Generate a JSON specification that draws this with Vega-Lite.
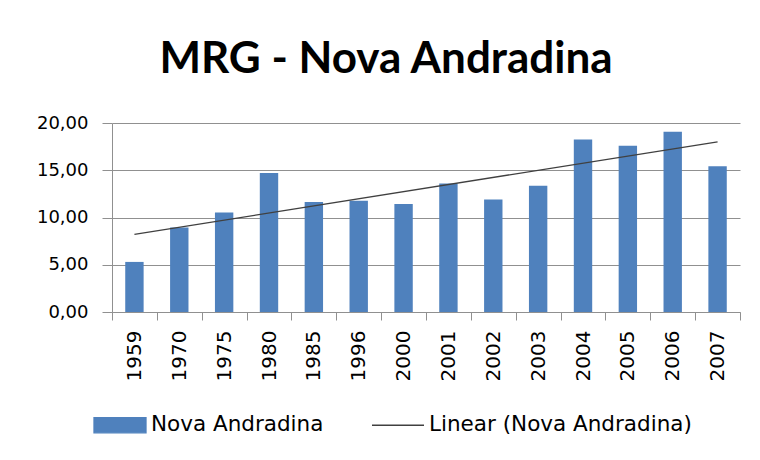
{
  "$schema": "https://vega.github.io/schema/vega-lite/v6.json",
  "autosize": "none",
  "width": 628,
  "height": 189,
  "padding": {"left": 112, "top": 123, "right": 20, "bottom": 148},
  "background": "white",
  "title": {
    "text": "MRG - Nova Andradina",
    "font": "Lato",
    "fontSize": 44,
    "fontWeight": "bold",
    "color": "#000000",
    "anchor": "middle",
    "dx": -40,
    "offset": 32
  },
  "datasets": {
    "bars": [
      {"idx": 1, "year": "1959", "value": 5.3},
      {"idx": 2, "year": "1970", "value": 8.94},
      {"idx": 3, "year": "1975", "value": 10.53},
      {"idx": 4, "year": "1980", "value": 14.72},
      {"idx": 5, "year": "1985", "value": 11.65},
      {"idx": 6, "year": "1996", "value": 11.76},
      {"idx": 7, "year": "2000", "value": 11.44},
      {"idx": 8, "year": "2001", "value": 13.6},
      {"idx": 9, "year": "2002", "value": 11.9},
      {"idx": 10, "year": "2003", "value": 13.35},
      {"idx": 11, "year": "2004", "value": 18.26},
      {"idx": 12, "year": "2005", "value": 17.6},
      {"idx": 13, "year": "2006", "value": 19.07},
      {"idx": 14, "year": "2007", "value": 15.43}
    ]
  },
  "data": {"name": "bars"},
  "config": {
    "view": {"stroke": null},
    "font": "DejaVu Sans",
    "axis": {"labelFont": "DejaVu Sans", "labelColor": "#000000"},
    "legend": {"labelFont": "DejaVu Sans"}
  },
  "encoding": {
    "x": {
      "field": "year",
      "type": "ordinal",
      "scale": {"paddingInner": 0, "paddingOuter": 0},
      "axis": {
        "title": null,
        "labelAngle": -90,
        "labelFontSize": 20,
        "labelPadding": 10,
        "tickBand": "extent",
        "tickSize": 8,
        "tickColor": "#909090",
        "domainColor": "#909090",
        "grid": false
      }
    },
    "y": {
      "field": "value",
      "type": "quantitative",
      "scale": {"domain": [0, 20], "nice": false},
      "axis": {
        "title": null,
        "values": [0, 5, 10, 15, 20],
        "labelExpr": "replace(format(datum.value, '.2f'), '.', ',')",
        "labelFontSize": 18,
        "labelPadding": 14,
        "tickSize": 10,
        "tickColor": "#909090",
        "domainColor": "#909090",
        "gridColor": "#909090",
        "gridWidth": 1
      }
    }
  },
  "layer": [
    {
      "mark": {"type": "bar", "width": {"band": 0.41}},
      "encoding": {
        "color": {
          "datum": "Nova Andradina",
          "scale": {
            "domain": ["Nova Andradina", "Linear (Nova Andradina)"],
            "range": ["#4F81BD", "#404040"]
          },
          "legend": {
            "title": null,
            "orient": "none",
            "legendX": -19,
            "legendY": 275,
            "direction": "horizontal",
            "labelFontSize": 21.5,
            "labelLimit": 500,
            "labelColor": "#000000",
            "labelOffset": 4,
            "columnPadding": 45,
            "symbolSize": 2704,
            "encode": {
              "symbols": {
                "update": {
                  "shape": {"signal": "datum.value === 'Nova Andradina' ? 'M-1,-0.29H1V0.29H-1Z' : 'M-1,0H1'"},
                  "fill": {"signal": "datum.value === 'Nova Andradina' ? '#4F81BD' : 'transparent'"},
                  "stroke": {"signal": "datum.value === 'Nova Andradina' ? 'transparent' : '#404040'"},
                  "strokeWidth": {"value": 1.3},
                  "opacity": {"value": 1}
                }
              }
            }
          }
        }
      }
    },
    {
      "transform": [
        {"regression": "value", "on": "idx"},
        {"lookup": "idx", "from": {"data": {"name": "bars"}, "key": "idx", "fields": ["year"]}}
      ],
      "mark": {"type": "line", "strokeWidth": 1.3},
      "encoding": {
        "color": {"datum": "Linear (Nova Andradina)"}
      }
    }
  ]
}
